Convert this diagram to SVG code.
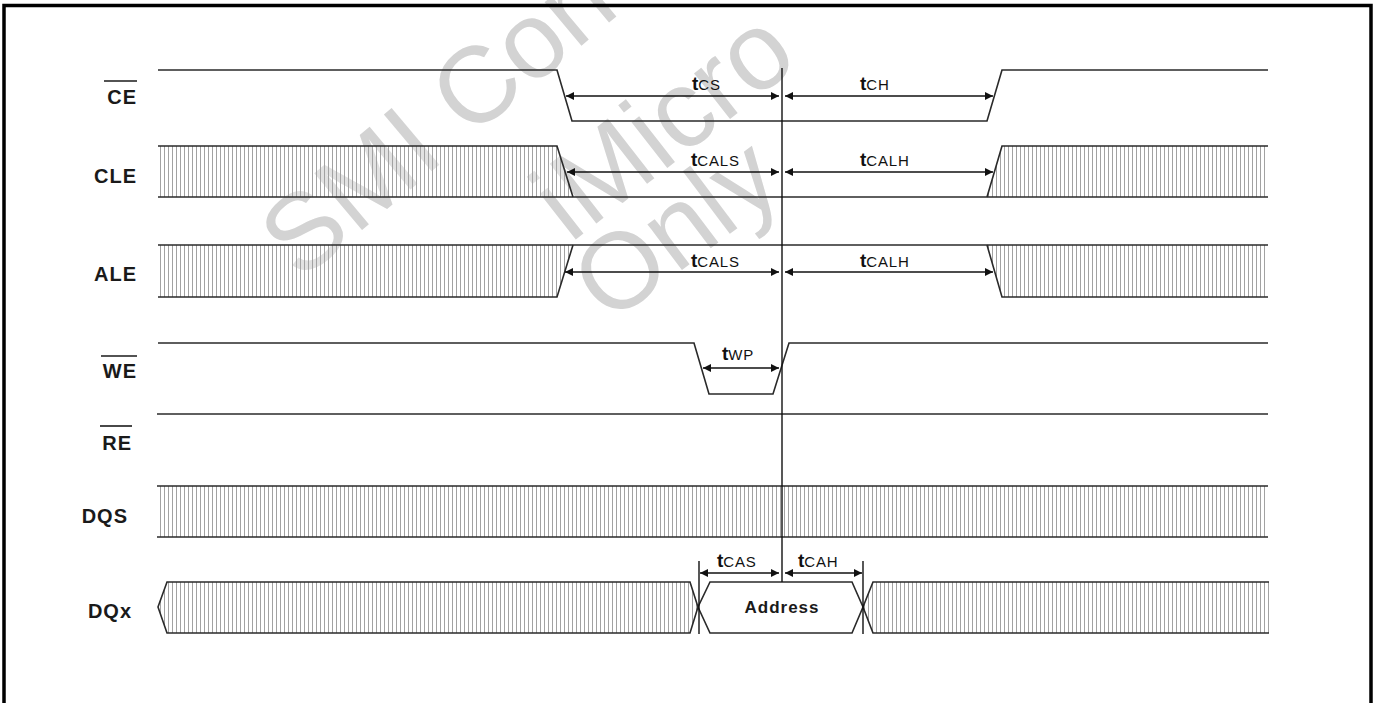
<svg xmlns="http://www.w3.org/2000/svg" width="1379" height="703" viewBox="0 0 1379 703">
<style>
.sig{fill:none;stroke:#2a2a2a;stroke-width:1.6}
.hf{fill:url(#hatch);stroke:none}
.lbl{font-family:"Liberation Sans",Arial,sans-serif;font-weight:bold;font-size:20px;letter-spacing:1px;fill:#1a1a1a}
.ovl{stroke:#1a1a1a;stroke-width:1.6}
.t{font-family:"Liberation Sans",Arial,sans-serif;fill:#111}
.tb{font-weight:bold;font-size:19px}
.ts{font-size:15px;letter-spacing:0.8px}
.dim{stroke:#111;stroke-width:1.4;fill:none;marker-start:url(#ah);marker-end:url(#ah)}
.mk{stroke:#111;stroke-width:1.4}
.wm{font-family:"Liberation Sans",Arial,sans-serif;font-size:108px;fill:#d3d3d3}
</style>
<defs>
<pattern id="hatch" width="4" height="10" patternUnits="userSpaceOnUse"><rect width="4" height="10" fill="#ffffff" fill-opacity="0.35"/><line x1="0.5" y1="0" x2="0.5" y2="10" stroke="#a2a2a2" stroke-width="1"/></pattern>
<marker id="ah" viewBox="0 0 10 10" refX="10" refY="5" markerWidth="10" markerHeight="8" markerUnits="userSpaceOnUse" orient="auto-start-reverse"><path d="M0,0 L10,5 L0,10 z" fill="#111"/></marker>
</defs>
<rect width="1379" height="703" fill="#ffffff"/>
<g id="watermark">
<text class="wm" transform="translate(300,282) rotate(-40)">SMI Con</text>
<text class="wm" transform="translate(570,244) rotate(-38)" style="font-size:110px">iMicro</text>
<text class="wm" transform="translate(609,325) rotate(-37)">Only</text>
</g>
<rect id="frame" x="4" y="5.5" width="1367" height="760" fill="none" stroke="#000" stroke-width="3.5"/>
<g id="CE">
<text class="lbl" x="137" y="104" text-anchor="end">CE</text>
<line class="ovl" x1="104" y1="81" x2="137" y2="81"/>
<path class="sig" d="M158,70 H557 L572,121 H987 L1002,70 H1268"/>
</g>
<g id="CLE">
<text class="lbl" x="137" y="183" text-anchor="end">CLE</text>
<path class="hf" d="M158,146 H557 L573,197 H158 Z"/>
<path class="hf" d="M1002,146 H1268 V197 H987 Z"/>
<path class="sig" d="M158,146 H557 L573,197"/>
<path class="sig" d="M158,197 H1268"/>
<path class="sig" d="M987,197 L1002,146 H1268"/>
</g>
<g id="ALE">
<text class="lbl" x="137" y="281" text-anchor="end">ALE</text>
<path class="hf" d="M158,245 H573 L557,297 H158 Z"/>
<path class="hf" d="M987,245 H1268 V297 H1002 Z"/>
<path class="sig" d="M158,245 H1268"/>
<path class="sig" d="M158,297 H557 L573,245"/>
<path class="sig" d="M987,245 L1002,297 H1268"/>
</g>
<g id="WE">
<text class="lbl" x="137" y="378" text-anchor="end">WE</text>
<line class="ovl" x1="101" y1="356" x2="137" y2="356"/>
<path class="sig" d="M158,343 H694 L709,394 H773 L789,343 H1268"/>
</g>
<g id="RE">
<text class="lbl" x="132" y="450" text-anchor="end">RE</text>
<line class="ovl" x1="100" y1="426" x2="132" y2="426"/>
<path class="sig" d="M157,414 H1268"/>
</g>
<g id="DQS">
<text class="lbl" x="128" y="523" text-anchor="end">DQS</text>
<rect class="hf" x="157" y="486" width="1111" height="51"/>
<path class="sig" d="M157,486 H1268 M157,537 H1268"/>
</g>
<g id="DQx">
<text class="lbl" x="132" y="618" text-anchor="end">DQx</text>
<path class="hf" d="M167,582 H690 L698,607 L690,633 H167 L158,607 Z"/>
<path class="sig" d="M167,582 H690 L698,607 L690,633 H167 L158,607 Z"/>
<path class="sig" d="M710,582 H852 L863,607 L852,633 H710 L698,607 Z" fill="#fff"/>
<text class="lbl" x="782" y="613" text-anchor="middle" style="font-size:17px">Address</text>
<path class="hf" d="M873,582 H1269 V633 H873 L863,607 Z"/>
<path class="sig" d="M1269,582 H873 L863,607 L873,633 H1269"/>
</g>
<g id="connectors">
<line class="mk" x1="782" y1="68" x2="782" y2="582"/>
<line class="mk" x1="699" y1="561" x2="699" y2="634"/>
<line class="mk" x1="863" y1="561" x2="863" y2="634"/>
<line class="dim" x1="566" y1="96" x2="779" y2="96"/>
<line class="dim" x1="785" y1="96" x2="993" y2="96"/>
<line class="dim" x1="567" y1="172" x2="779" y2="172"/>
<line class="dim" x1="785" y1="172" x2="993" y2="172"/>
<line class="dim" x1="565" y1="272" x2="779" y2="272"/>
<line class="dim" x1="785" y1="272" x2="993" y2="272"/>
<line class="dim" x1="703" y1="368" x2="779" y2="368"/>
<line class="dim" x1="700" y1="573" x2="779" y2="573"/>
<line class="dim" x1="785" y1="573" x2="862" y2="573"/>
</g>
<g id="timing-labels">
<text class="t" x="692" y="90"><tspan class="tb">t</tspan><tspan class="ts">CS</tspan></text>
<text class="t" x="860" y="90"><tspan class="tb">t</tspan><tspan class="ts">CH</tspan></text>
<text class="t" x="691" y="166"><tspan class="tb">t</tspan><tspan class="ts">CALS</tspan></text>
<text class="t" x="860" y="166"><tspan class="tb">t</tspan><tspan class="ts">CALH</tspan></text>
<text class="t" x="691" y="267"><tspan class="tb">t</tspan><tspan class="ts">CALS</tspan></text>
<text class="t" x="860" y="267"><tspan class="tb">t</tspan><tspan class="ts">CALH</tspan></text>
<text class="t" x="722" y="360"><tspan class="tb">t</tspan><tspan class="ts">WP</tspan></text>
<text class="t" x="717" y="567"><tspan class="tb">t</tspan><tspan class="ts">CAS</tspan></text>
<text class="t" x="798" y="567"><tspan class="tb">t</tspan><tspan class="ts">CAH</tspan></text>
</g>
</svg>
